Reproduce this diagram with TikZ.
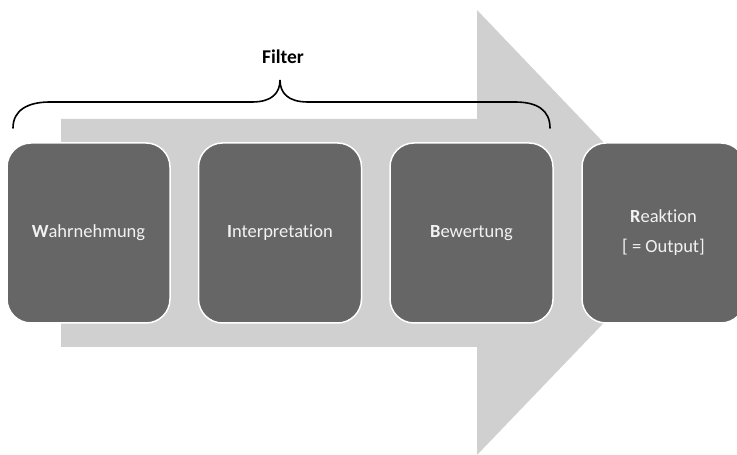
\documentclass[tikz,border=0pt]{standalone}
\usepackage{fontspec}
\setmainfont{Carlito}[Ligatures={NoCommon}]
\definecolor{boxgray}{HTML}{666666}
\definecolor{arrowgray}{HTML}{D0D0D0}
\definecolor{txtwhite}{HTML}{F2F2F2}
\begin{document}
\begin{tikzpicture}[x=1pt,y=1pt,
  stagebox/.style={draw=white, line width=1.5pt, fill=boxgray, rounded corners=24pt,
    minimum width=163pt, minimum height=180pt, inner sep=0pt, text=txtwhite,
    font=\fontsize{18.5}{22}\selectfont, align=center},
  bracestyle/.style={draw=black, line width=1.6pt, line cap=round}]
\useasboundingbox (0,0) rectangle (737,455);
% big arrow
\fill[arrowgray] (61,108) -- (61,336) -- (477,336) -- (477,445) -- (690,222) -- (477,0) -- (477,108) -- cycle;
% boxes
\node[stagebox] (w) at (88.5,222) {\textbf{W}ahrnehmung};
\node[stagebox] (i) at (280,222) {\textbf{I}nterpretation};
\node[stagebox] (b) at (471.5,222) {\textbf{B}ewertung};
\node[stagebox] (r) at (663.5,222) {\textbf{R}eaktion\\[8pt][ = Output]};
% brace
\coordinate (bl) at (13,327);
\coordinate (br) at (550,327);
\coordinate (bp) at (280,375);
\draw[bracestyle] (bl) .. controls (13,345) and (28,353) .. (50,353)
  -- (252,353) .. controls (272,353) and (280,362) .. (bp)
  .. controls (280,362) and (288,353) .. (308,353)
  -- (515,353) .. controls (537,353) and (550,345) .. (br);
\node[font=\bfseries\fontsize{19.5}{22}\selectfont] (filter) at (283,398) {Filter};
\end{tikzpicture}
\end{document}
